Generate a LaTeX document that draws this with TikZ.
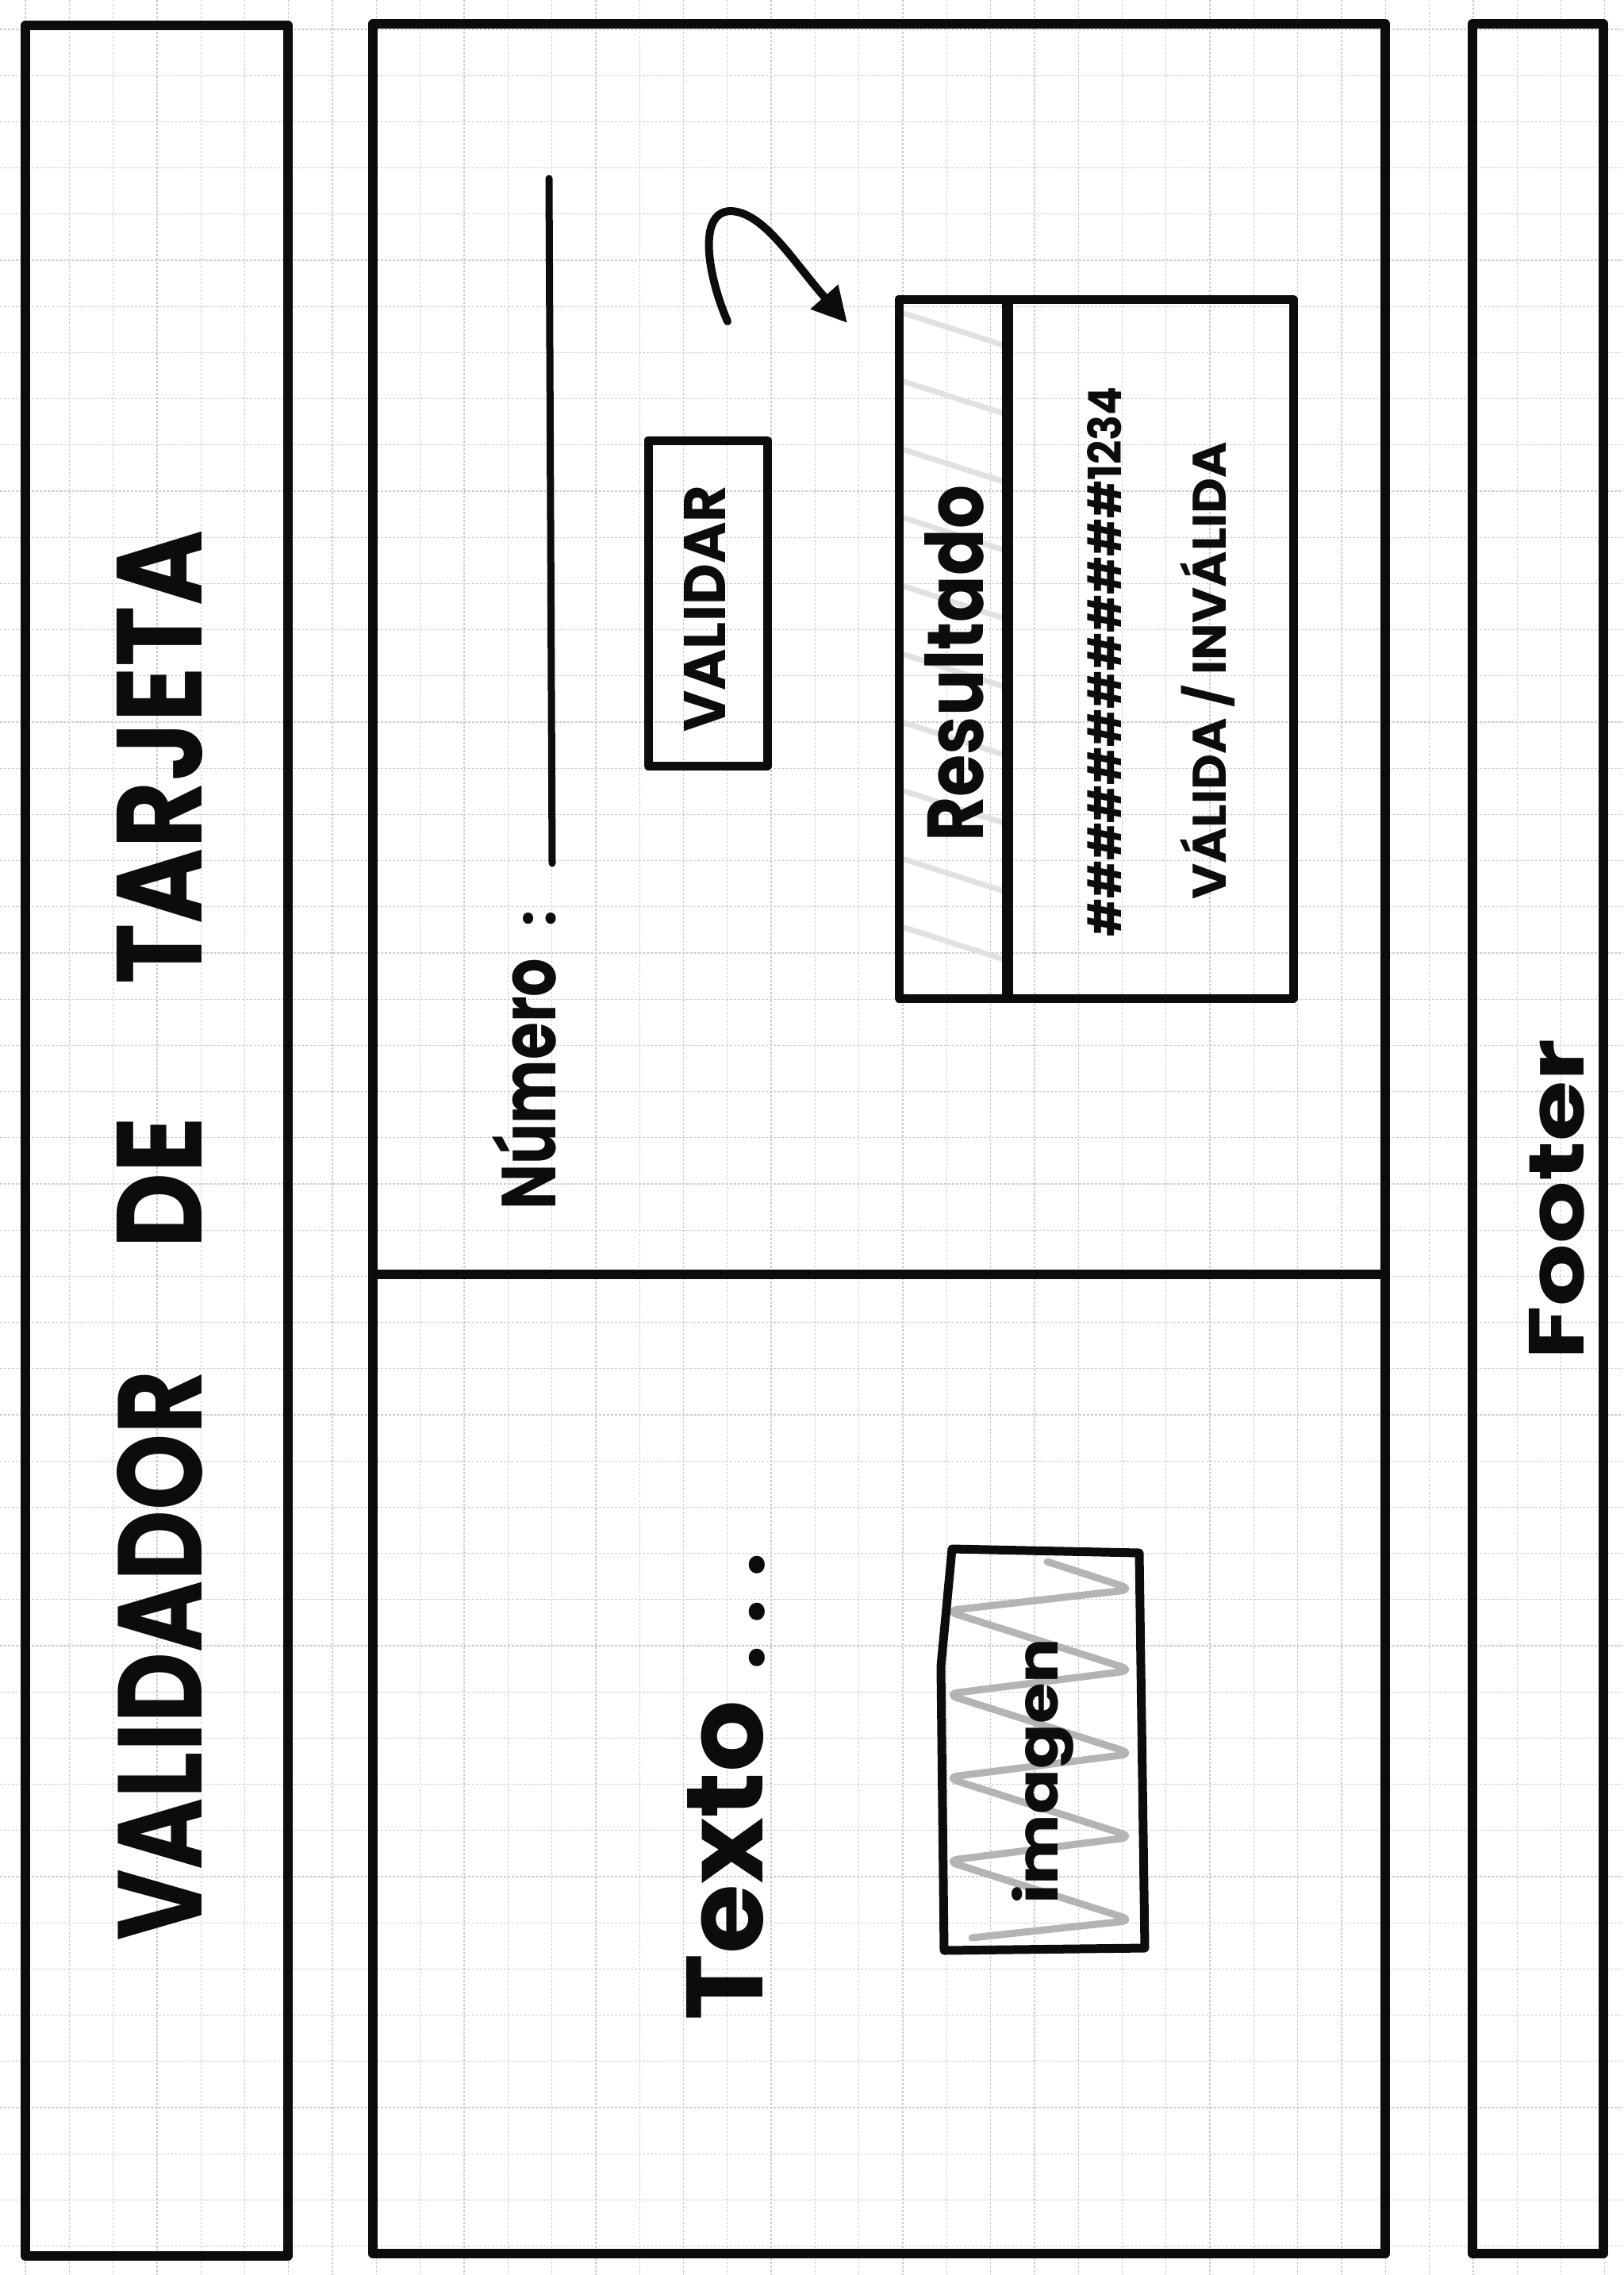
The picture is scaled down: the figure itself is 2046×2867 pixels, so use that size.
\documentclass[tikz,border=0pt]{standalone}
\usepackage{fontspec}
\setmainfont{Poppins}
\usepackage{graphicx}
\usetikzlibrary{arrows.meta}
\definecolor{ink}{RGB}{12,12,12}
\definecolor{gridc}{RGB}{205,205,205}
\definecolor{hatchlight}{RGB}{225,225,225}
\definecolor{hatchdark}{RGB}{180,180,180}
\tikzset{
  panel/.style={draw=ink, line width=12pt, line join=round},
  box/.style={draw=ink, line width=11pt, line join=round},
  gridline/.style={draw=gridc, line width=1.3pt, dash pattern=on 3pt off 2pt},
  txt/.style={rotate=90, anchor=base west, inner sep=0pt, text=ink, font=\bfseries},
  scribble/.style={line width=9pt, line cap=round, line join=round},
}
\newcommand{\rtext}[3]{\resizebox{#1pt}{#2pt}{#3}}
\begin{document}
\begin{tikzpicture}[x=1pt,y=1pt]
\useasboundingbox (0,0) rectangle (2046,-2867);
\fill[white] (0,0) rectangle (2046,-2867);
% grid paper
\foreach \k in {0,...,36} \draw[gridline] ({32+55.3*\k},0) -- ({32+55.3*\k},-2867);
\foreach \k in {0,...,48} \draw[gridline] (0,{-37-58.2*\k}) -- (2046,{-37-58.2*\k});
% hatching of the Resultado header
\begin{scope}
  \clip (1133,-377) rectangle (1270,-1258);
  \foreach \y in {395,481,567,653,739,825,911,997,1083,1169,1255}
    \draw[draw=hatchlight, line width=7pt, line cap=round] (1140,-\y) -- (1265,{-\y-40});
\end{scope}
% hatching of the image placeholder
\begin{scope}
  \clip (1200,-1952) -- (1436,-1957) -- (1443,-2455) -- (1190,-2458) -- (1186,-2100) -- cycle;
  \draw[scribble, draw=hatchdark, rounded corners=16pt]
    (1320,-1968) -- (1428,-2003) -- (1192,-2030) -- (1428,-2105) -- (1192,-2135)
    -- (1428,-2210) -- (1192,-2240) -- (1428,-2315) -- (1192,-2345) -- (1428,-2420)
    -- (1225,-2442);
\end{scope}
% panels
\draw[panel] (32,-32) rectangle (363,-2843);
\draw[panel] (470,-30) rectangle (1746,-2840);
\draw[panel] (470,-1606) -- (1746,-1606);
\draw[panel] (1856,-30) rectangle (2021,-2840);
% input line
\coordinate (lineTop) at (692,-225);
\coordinate (lineBot) at (696,-1088);
\draw[draw=ink, line width=9pt, line cap=round] (lineTop) -- (lineBot);
% button
\draw[box] (817,-555) rectangle (967,-965);
% result box
\draw[box] (1133,-377) rectangle (1630,-1258);
\draw[draw=ink, line width=14pt] (1270,-377) -- (1270,-1258);
% image box
\draw[box] (1200,-1952) -- (1436,-1957) -- (1443,-2455) -- (1190,-2458) -- (1186,-2100) -- cycle;
% arrow
\coordinate (arrowStart) at (917,-405);
\coordinate (arrowTip) at (1068,-407);
\draw[draw=ink, line width=10pt, line cap=round, -{Triangle[length=44pt,width=44pt]}]
  (arrowStart) .. controls (893,-350) and (878,-268) .. (920,-266)
  .. controls (962,-266) and (1000,-330) .. (arrowTip);
% texts
\node[txt] (title1) at (254,-2446) {\rtext{718}{107}{VALIDADOR}};
\node[txt] (title2) at (254,-1574) {\rtext{166}{107}{DE}};
\node[txt] (title3) at (254,-1241) {\rtext{572}{107}{TARJETA}};
\node[txt] (numero) at (700,-1525) {\rtext{317}{80}{Número}};
\node[txt, font=\bfseries\fontsize{70}{70}\selectfont] (colon) at (700,-1168) {:};
\node[txt] (validar) at (914,-923) {\rtext{311}{52}{VALIDAR}};
\node[txt] (resultado) at (1239,-1061) {\rtext{449}{74}{Resultado}};
\node[txt] (masked) at (1413,-1181) {\rtext{693}{43}{\#\#\#\#\#\#\#\#\#\#\#\#1234}};
\node[txt] (estado) at (1545,-1134) {\rtext{577}{58}{VÁLIDA / INVÁLIDA}};
\node[txt] (texto) at (961,-2547) {\rtext{404}{96}{Texto}};
\node[txt, font=\bfseries\fontsize{108}{108}\selectfont] (dots) at (963,-2105) {.\hspace{28pt}.\hspace{28pt}.};
\node[txt] (imagen) at (1333,-2400) {\rtext{335}{58}{imagen}};
\node[txt] (footer) at (1996,-1714) {\rtext{404}{69}{Footer}};
\end{tikzpicture}
\end{document}
